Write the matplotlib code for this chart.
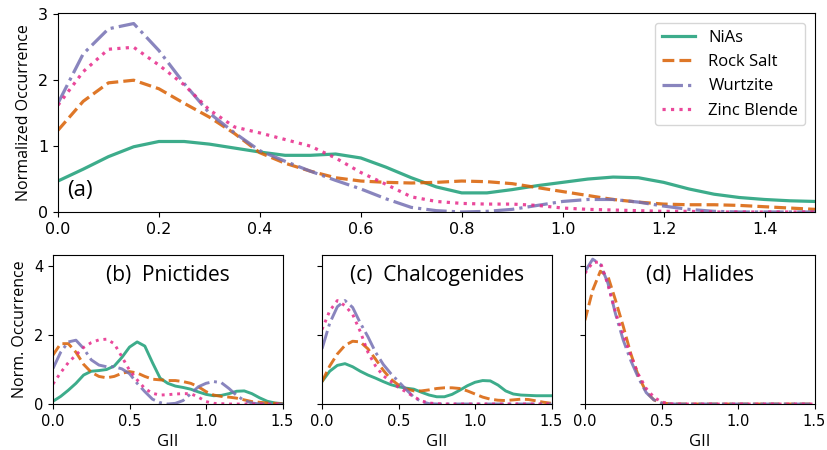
import matplotlib
matplotlib.use("Agg")
import matplotlib.pyplot as plt

# GII grid shared by every curve (0 to 1.5, step 0.05)
gii = [0.0, 0.05, 0.1, 0.15, 0.2, 0.25, 0.3, 0.35, 0.4, 0.45, 0.5,
       0.55, 0.6, 0.65, 0.7, 0.75, 0.8, 0.85, 0.9, 0.95, 1.0,
       1.05, 1.1, 1.15, 1.2, 1.25, 1.3, 1.35, 1.4, 1.45, 1.5]

structures = ["NiAs", "Rock Salt", "Wurtzite", "Zinc Blende"]
colors = ["#1b9e77", "#d95f02", "#7570b3", "#e7298a"]
styles = ["-", "--", "-.", ":"]

# (a) all compounds
nias_all = [0.47, 0.65, 0.84, 0.99, 1.07, 1.07, 1.03, 0.97, 0.91, 0.86, 0.86,
            0.88, 0.82, 0.68, 0.52, 0.38, 0.29, 0.29, 0.34, 0.40, 0.45,
            0.50, 0.53, 0.52, 0.45, 0.35, 0.27, 0.22, 0.19, 0.17, 0.16]
rock_all = [1.24, 1.68, 1.96, 2.0, 1.87, 1.65, 1.44, 1.19, 0.9, 0.74, 0.62,
            0.52, 0.47, 0.45, 0.44, 0.45, 0.47, 0.46, 0.43, 0.37, 0.31,
            0.25, 0.19, 0.15, 0.12, 0.11, 0.11, 0.10, 0.08, 0.06, 0.04]
wurtz_all = [1.65, 2.4, 2.78, 2.86, 2.45, 1.95, 1.5, 1.2, 0.93, 0.77, 0.62,
             0.48, 0.35, 0.2, 0.07, 0.02, 0.0, 0.01, 0.04, 0.1, 0.16,
             0.19, 0.19, 0.15, 0.09, 0.04, 0.01, 0.0, 0.0, 0.0, 0.0]
zinc_all = [1.62, 2.13, 2.47, 2.5, 2.23, 1.93, 1.55, 1.29, 1.2, 1.1, 1.0,
            0.82, 0.6, 0.42, 0.23, 0.16, 0.13, 0.12, 0.12, 0.1, 0.06,
            0.04, 0.03, 0.02, 0.01, 0.01, 0.0, 0.0, 0.0, 0.0, 0.0]

# (b) pnictides
nias_pn = [0.08, 0.22, 0.4, 0.6, 0.84, 0.95, 0.97, 1.0, 1.1, 1.35, 1.65,
           1.8, 1.68, 1.2, 0.75, 0.6, 0.52, 0.48, 0.43, 0.35, 0.28,
           0.24, 0.25, 0.3, 0.37, 0.38, 0.3, 0.18, 0.08, 0.03, 0.01]
rock_pn = [1.42, 1.75, 1.75, 1.5, 1.15, 0.92, 0.8, 0.76, 0.8, 0.89, 0.94,
           0.9, 0.8, 0.72, 0.7, 0.68, 0.68, 0.65, 0.6, 0.5, 0.36,
           0.26, 0.22, 0.2, 0.17, 0.12, 0.07, 0.05, 0.03, 0.02, 0.01]
wurtz_pn = [1.03, 1.5, 1.8, 1.85, 1.61, 1.28, 1.13, 1.08, 1.08, 1.02, 0.88,
            0.6, 0.36, 0.14, 0.04, 0.0, 0.02, 0.1, 0.3, 0.5, 0.6,
            0.65, 0.62, 0.45, 0.25, 0.1, 0.03, 0.0, 0.0, 0.0, 0.0]
zinc_pn = [0.58, 0.91, 1.2, 1.42, 1.64, 1.78, 1.86, 1.88, 1.75, 1.37, 0.98,
           0.7, 0.45, 0.31, 0.26, 0.27, 0.29, 0.3, 0.3, 0.2, 0.07,
           0.02, 0.01, 0.0, 0.0, 0.0, 0.0, 0.0, 0.0, 0.0, 0.0]

# (c) chalcogenides
nias_ch = [0.65, 0.95, 1.12, 1.17, 1.08, 0.95, 0.84, 0.75, 0.65, 0.56, 0.5,
           0.46, 0.43, 0.34, 0.26, 0.21, 0.21, 0.28, 0.4, 0.53, 0.63,
           0.68, 0.67, 0.55, 0.38, 0.29, 0.26, 0.25, 0.24, 0.24, 0.24]
rock_ch = [0.65, 1.1, 1.45, 1.7, 1.82, 1.8, 1.6, 1.3, 0.98, 0.72, 0.55,
           0.44, 0.38, 0.38, 0.41, 0.45, 0.47, 0.47, 0.45, 0.38, 0.29,
           0.2, 0.14, 0.11, 0.1, 0.12, 0.14, 0.13, 0.09, 0.05, 0.02]
wurtz_ch = [1.6, 2.34, 2.82, 3.0, 2.8, 2.35, 1.95, 1.5, 1.15, 0.88, 0.65,
            0.42, 0.2, 0.07, 0.01, 0.0, 0.0, 0.0, 0.0, 0.0, 0.0,
            0.0, 0.0, 0.0, 0.0, 0.0, 0.0, 0.0, 0.0, 0.0, 0.0]
zinc_ch = [2.16, 2.7, 3.0, 2.85, 2.6, 2.1, 1.5, 1.1, 0.82, 0.65, 0.48,
           0.35, 0.21, 0.09, 0.03, 0.01, 0.0, 0.0, 0.0, 0.0, 0.0,
           0.0, 0.0, 0.0, 0.0, 0.0, 0.0, 0.0, 0.0, 0.0, 0.0]

# (d) halides (no NiAs)
rock_ha = [2.43, 3.3, 3.85, 3.7, 3.0, 2.25, 1.45, 0.8, 0.35, 0.12, 0.03,
           0.01, 0.0, 0.0, 0.0, 0.0, 0.0, 0.0, 0.0, 0.0, 0.0,
           0.0, 0.0, 0.0, 0.0, 0.0, 0.0, 0.0, 0.0, 0.0, 0.0]
wurtz_ha = [3.84, 4.2, 4.05, 3.5, 2.6, 1.85, 1.25, 0.75, 0.33, 0.12, 0.03,
            0.0, 0.0, 0.0, 0.0, 0.0, 0.0, 0.0, 0.0, 0.0, 0.0,
            0.0, 0.0, 0.0, 0.0, 0.0, 0.0, 0.0, 0.0, 0.0, 0.0]
zinc_ha = [3.79, 4.1, 4.12, 3.45, 2.65, 2.0, 1.4, 0.85, 0.45, 0.2, 0.06,
           0.01, 0.0, 0.0, 0.0, 0.0, 0.0, 0.0, 0.0, 0.0, 0.0,
           0.0, 0.0, 0.0, 0.0, 0.0, 0.0, 0.0, 0.0, 0.0, 0.0]

panel_titles = ["(b)  Pnictides", "(c)  Chalcogenides", "(d)  Halides"]
panel_data = [
    [nias_pn, rock_pn, wurtz_pn, zinc_pn],
    [nias_ch, rock_ch, wurtz_ch, zinc_ch],
    [None, rock_ha, wurtz_ha, zinc_ha],
]

label_font = "Open Sans"

fig = plt.figure(figsize=(8.27, 4.5), dpi=100)

# Top panel
ax = fig.add_axes([0.0701, 0.5289, 0.9154, 0.4422])
for ys, name, c, ls in zip([nias_all, rock_all, wurtz_all, zinc_all], structures, colors, styles):
    ax.plot(gii, ys, ls, color=c, lw=2.3, alpha=0.85, label=name)
ax.set_xlim(0, 1.5)
ax.set_ylim(0, 3.02)
ax.set_yticks([0, 1, 2, 3])
ax.set_xticks([0.0, 0.2, 0.4, 0.6, 0.8, 1.0, 1.2, 1.4])
ax.tick_params(labelsize=11.5)
ax.set_ylabel("Normalized Occurrence", family=label_font, fontsize=11.5)
ax.text(0.012, 0.11, "(a)", transform=ax.transAxes, family=label_font,
        fontsize=16, va="center")
ax.legend(loc="upper right", prop={"family": label_font, "size": 12},
          borderaxespad=0.6)

# Bottom panels
lefts = [0.0641, 0.3894, 0.7074]
for i, (left, title, data) in enumerate(zip(lefts, panel_titles, panel_data)):
    bx = fig.add_axes([left, 0.1022, 0.2775, 0.3311])
    for ys, c, ls in zip(data, colors, styles):
        if ys is None:
            continue
        bx.plot(gii, ys, ls, color=c, lw=2.1, alpha=0.85)
    bx.set_xlim(0, 1.5)
    bx.set_ylim(0, 4.32)
    bx.set_yticks([0, 2, 4])
    bx.set_xticks([0.0, 0.5, 1.0, 1.5])
    bx.tick_params(labelsize=10.5)
    if i > 0:
        bx.set_yticklabels([])
    else:
        bx.set_ylabel("Norm. Occurrence", family=label_font, fontsize=11.5)
    bx.set_xlabel("GII", family=label_font, fontsize=12)
    bx.text(0.5, 0.86, title, transform=bx.transAxes, family=label_font,
            fontsize=15, ha="center", va="center")

fig.savefig("out.png", dpi=100)
